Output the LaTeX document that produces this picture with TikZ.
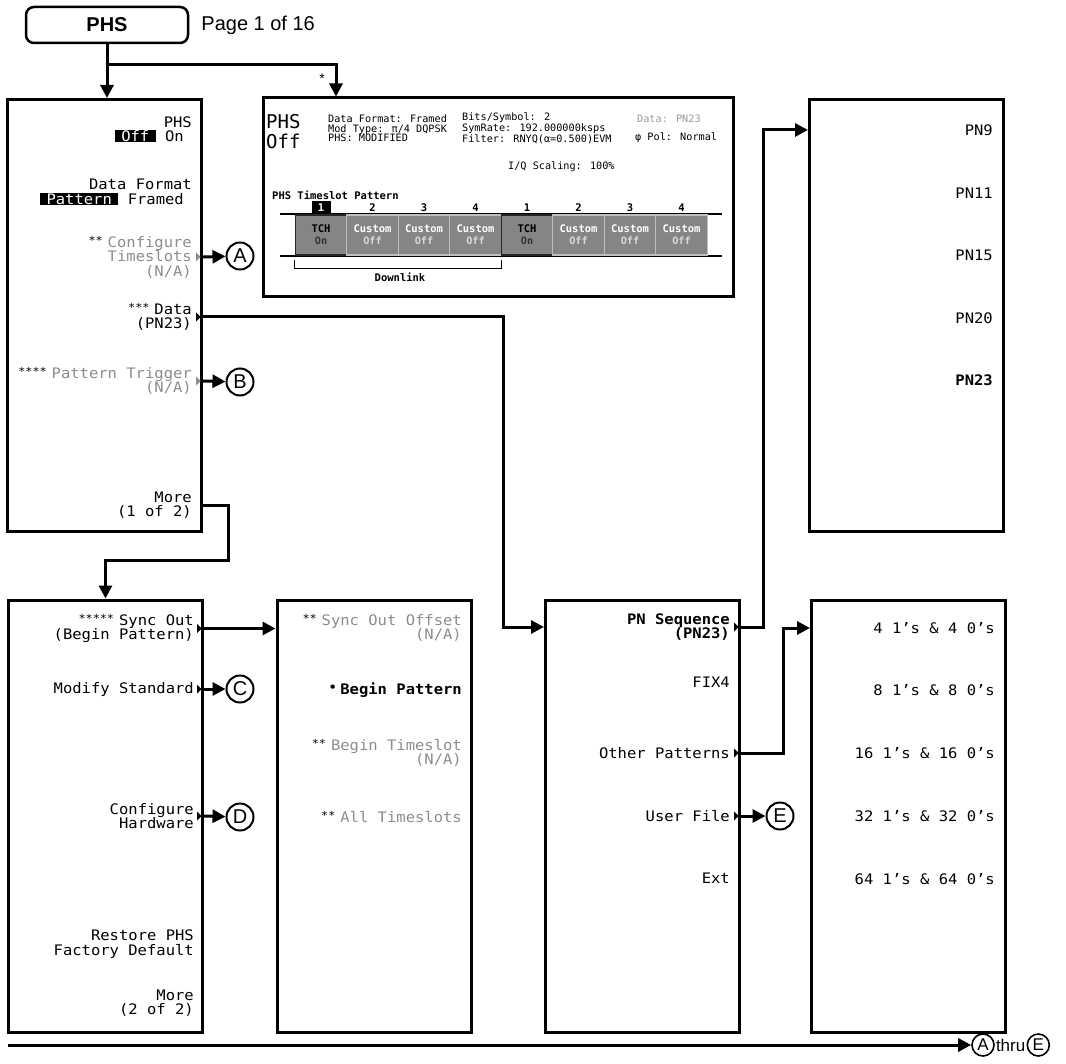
\documentclass[tikz,border=0pt]{standalone}
\usepackage{fontspec}
\setmainfont{Liberation Sans}
\newfontfamily\lcd[FakeStretch=1.07]{DejaVu Sans Mono}
\newfontfamily\lcdscr{DejaVu Sans Mono}
\usepackage{xcolor}
\usepackage{tikz}
\usetikzlibrary{positioning,arrows.meta,shapes}

\definecolor{dimtext}{gray}{0.55}
\definecolor{slotgray}{gray}{0.52}
\newcommand\menufont{\lcd\fontsize{14.5}{14.5}\selectfont}
\newcommand\scrfont{\lcdscr\fontsize{10.2}{9.7}\selectfont}
\newcommand\scrbold{\lcdscr\bfseries\fontsize{10.5}{11}\selectfont}
\newcommand\hl[1]{{\setlength\fboxsep{0.5pt}\colorbox{black}{\kern6pt\textcolor{white}{#1}\kern6pt}}}
\newcommand\stars[1]{\textcolor{black}{\raisebox{3pt}{\lcd\fontsize{11}{11}\selectfont #1}}\kern5pt}
\newcommand\skmark[3]{\fill[#3] (#1.east -| #2.east) ++(-7,-4.5) -- ++(4.5,4.5) -- ++(-4.5,4.5) -- cycle;}

\begin{document}
\begin{tikzpicture}[x=1pt,y=-1pt,
        menu/.style={draw, line width=3pt, minimum width=194pt, minimum height=432pt, inner sep=0pt},
        item/.style={anchor=east, inner sep=0pt, align=right, font=\menufont},
        dim/.style={item, text=dimtext},
        ref/.style={circle, draw, line width=2pt, minimum size=27pt, inner sep=0pt, font=\fontsize{20}{20}\selectfont},
        endref/.style={ref, minimum size=22pt, line width=1.6pt, font=\fontsize{17}{17}\selectfont},
        link/.style={line width=3pt},
        conn/.style={link, -{Triangle[length=13pt,width=13pt]}},
        scrtext/.style={anchor=west, inner sep=0pt, align=left, font=\scrfont},
        bigtext/.style={anchor=west, inner sep=0pt, font=\lcdscr\fontsize{19}{19}\selectfont},
        slot/.style={minimum width=51.5pt, minimum height=40pt, inner sep=0pt, align=center, font=\scrbold, fill=slotgray, line width=1.2pt},
        tch/.style={draw=black!85, text=black},
        cust/.style={draw=black!25, text=white},
        num/.style={inner sep=0pt, font=\scrbold},
        hinum/.style={num, fill=black, text=white, minimum width=19pt, minimum height=12pt}
    ]
    \useasboundingbox (0,0) rectangle (1066,1064);

    % Header
    \node[draw, rounded corners=8pt, line width=2.5pt, minimum width=162pt, minimum height=36pt,
        font=\bfseries\fontsize{20}{20}\selectfont] (top) at (107,25) {PHS};
    \node[right=12pt of top, inner sep=0pt, font=\fontsize{20}{20}\selectfont] (page) {Page 1 of 16};
    \coordinate (star) at (336,65);
    \node[font=\fontsize{14}{14}\selectfont] (astk) at (322,79) {*};

    % Menu boxes
    \node[menu] (mainA) at (104.5,315.5) {};
    \node[menu] (pnbox) at (906.5,315.5) {};
    \node[menu] (mainB) at (105.5,816) {};
    \node[menu] (syncbox) at (374,816) {};
    \node[menu] (databox) at (642.5,816) {};
    \node[menu] (patbox) at (908.5,816) {};

    % Status screen
    \node[draw, line width=3pt, minimum width=470pt, minimum height=199pt, inner sep=0pt] (scr) at (498,197.5) {};
    \node[bigtext] (scrphs) at (266,122) {PHS};
    \node[bigtext] (scroff) at (266,141) {Off};
    \node[scrtext] (col1) at (328,128.5) {Data Format: Framed\\Mod Type: π/4 DQPSK\\PHS: MODIFIED};
    \node[scrtext] (col2) at (462,128.5) {Bits/Symbol: 2\\SymRate: 192.000000ksps\\Filter: RNYQ(α=0.500)EVM};
    \node[scrtext, text=black!40] (pndata) at (637,119) {Data: PN23};
    \node[scrtext] (phpol) at (635,138) {φ Pol: Normal};
    \node[scrtext] (iqs) at (508,167) {I/Q Scaling: 100\%};
    \node[scrtext, font=\scrbold] (tsp) at (272,195) {PHS Timeslot Pattern};
    \draw[line width=1.2pt] (280,214) -- (722,214) (280,256) -- (722,256);
    \foreach \i/\n/\ns/\kind/\hd/\st/\stc in {0/1/hinum/tch/TCH/On/black!80, 1/2/num/cust/Custom/Off/black!15,
            2/3/num/cust/Custom/Off/black!15, 3/4/num/cust/Custom/Off/black!15, 4/1/num/tch/TCH/On/black!80,
            5/2/num/cust/Custom/Off/black!15, 6/3/num/cust/Custom/Off/black!15, 7/4/num/cust/Custom/Off/black!15}{
        \node[slot, \kind] (slot\i) at ({321+51.5*\i},235) {\hd\\[1pt]{\scrfont\color{\stc}\st}};
        \node[\ns] (num\i) at ({321+51.5*\i},207.5) {\n};
    }
    \draw[line width=1pt] (slot0.south west) ++(0,4) -- ++(0,9) -| ([yshift=-4pt]slot3.south east);
    \node[num] (dl) at (400,277) {Downlink};

    % Menu 1 of 2
    \node[item] (phs) at (192,129.5) {PHS\\\hl{Off} On\kern8pt};
    \node[item] (fmt) at (192,192) {Data Format\\\hl{Pattern} Framed\kern8pt};
    \node[dim] (cfg) at (192,257) {\stars{**}Configure\\Timeslots\\(N/A)};
    \node[item] (data) at (192,317) {\stars{***}Data\\(PN23)};
    \node[dim] (trig) at (192,381) {\stars{****}Pattern Trigger\\(N/A)};
    \node[item] (more1) at (192,505) {More\\(1 of 2)};
    \node[ref] (refA) at (240,256) {A};
    \node[ref] (refB) at (240,382) {B};

    % PN menu
    \node[item] (pn9) at (993,130) {PN9};
    \node[item] (pn11) at (993,193) {PN11};
    \node[item] (pn15) at (993,255) {PN15};
    \node[item] (pn20) at (993,318) {PN20};
    \node[item, font=\menufont\bfseries] (pn23) at (993,380) {PN23};

    % Menu 2 of 2
    \node[item] (sync) at (194,628.5) {\stars{*****}Sync Out\\(Begin Pattern)};
    \node[item] (modstd) at (194,689) {Modify Standard};
    \node[item] (hw) at (194,816) {Configure\\Hardware};
    \node[item] (restore) at (194,944) {Restore PHS\\Factory Default};
    \node[item] (more2) at (194,1003) {More\\(2 of 2)};
    \node[ref] (refC) at (240,689) {C};
    \node[ref] (refD) at (240,817) {D};

    % Sync out menu
    \node[dim] (offs) at (462,628) {\stars{**}Sync Out Offset\\(N/A)};
    \node[item, font=\menufont\bfseries] (begpat) at (462,690) {\raisebox{2pt}{\mdseries•}\kern3pt Begin Pattern};
    \node[dim] (begts) at (462,753) {\stars{**}Begin Timeslot\\(N/A)};
    \node[dim] (allts) at (462,817) {\stars{**}All Timeslots};

    % Data menu
    \node[item, font=\menufont\bfseries] (pnseq) at (730,627) {PN Sequence\\(PN23)};
    \node[item] (fix4) at (730,682) {FIX4};
    \node[item] (other) at (730,753) {Other Patterns};
    \node[item] (user) at (730,816) {User File};
    \node[item] (ext) at (730,878) {Ext};
    \node[ref] (refE) at (780,816) {E};

    % Other patterns menu
    \node[item] (four) at (995,628) {4 1’s \& 4 0’s};
    \node[item] (eight) at (995,690) {8 1’s \& 8 0’s};
    \node[item] (sixteen) at (995,753) {16 1’s \& 16 0’s};
    \node[item] (thirtytwo) at (995,816) {32 1’s \& 32 0’s};
    \node[item] (sixtyfour) at (995,879) {64 1’s \& 64 0’s};

    % Softkey marks
    \skmark{cfg}{mainA}{dimtext}
    \skmark{data}{mainA}{black}
    \skmark{trig}{mainA}{dimtext}
    \skmark{sync}{mainB}{black}
    \skmark{modstd}{mainB}{black}
    \skmark{hw}{mainB}{black}
    \skmark{pnseq}{databox}{black}
    \skmark{other}{databox}{black}
    \skmark{user}{databox}{black}

    % Connectors
    \draw[conn] (top.south) -- (top.south |- mainA.north);
    \draw[conn] (top.south |- star) -- (star) -- (star |- scr.north);
    \draw[conn] (cfg.east -| mainA.east) -- (refA);
    \draw[conn] (trig.east -| mainA.east) -- (refB);
    \coordinate (dfold) at (503,0);
    \draw[conn] (data.east -| mainA.east) -| (dfold |- pnseq.east) -- (pnseq.east -| databox.west);
    \coordinate (mfold) at (228,560);
    \draw[conn] (more1.east -| mainA.east) -| (mfold) -| (mainB.north);
    \draw[conn] (sync.east -| mainB.east) -- (sync.east -| syncbox.west);
    \draw[conn] (modstd.east -| mainB.east) -- (refC);
    \draw[conn] (hw.east -| mainB.east) -- (refD);
    \coordinate (pfold) at (763,0);
    \draw[conn] (pnseq.east -| databox.east) -| (pfold |- pn9.east) -- (pn9.east -| pnbox.west);
    \coordinate (ofold) at (783,0);
    \draw[conn] (other.east -| databox.east) -| (ofold |- four.east) -- (four.east -| patbox.west);
    \draw[conn] (user.east -| databox.east) -- (refE);

    % Bottom line
    \coordinate (lstart) at (8,1045);
    \node[endref] (allA) at (983,1045) {A};
    \node[right=1pt of allA, inner sep=0pt, font=\fontsize{17}{17}\selectfont] (thru) {thru};
    \node[endref, right=1pt of thru] (allE) {E};
    \draw[conn] (lstart) -- (allA);
\end{tikzpicture}
\end{document}
